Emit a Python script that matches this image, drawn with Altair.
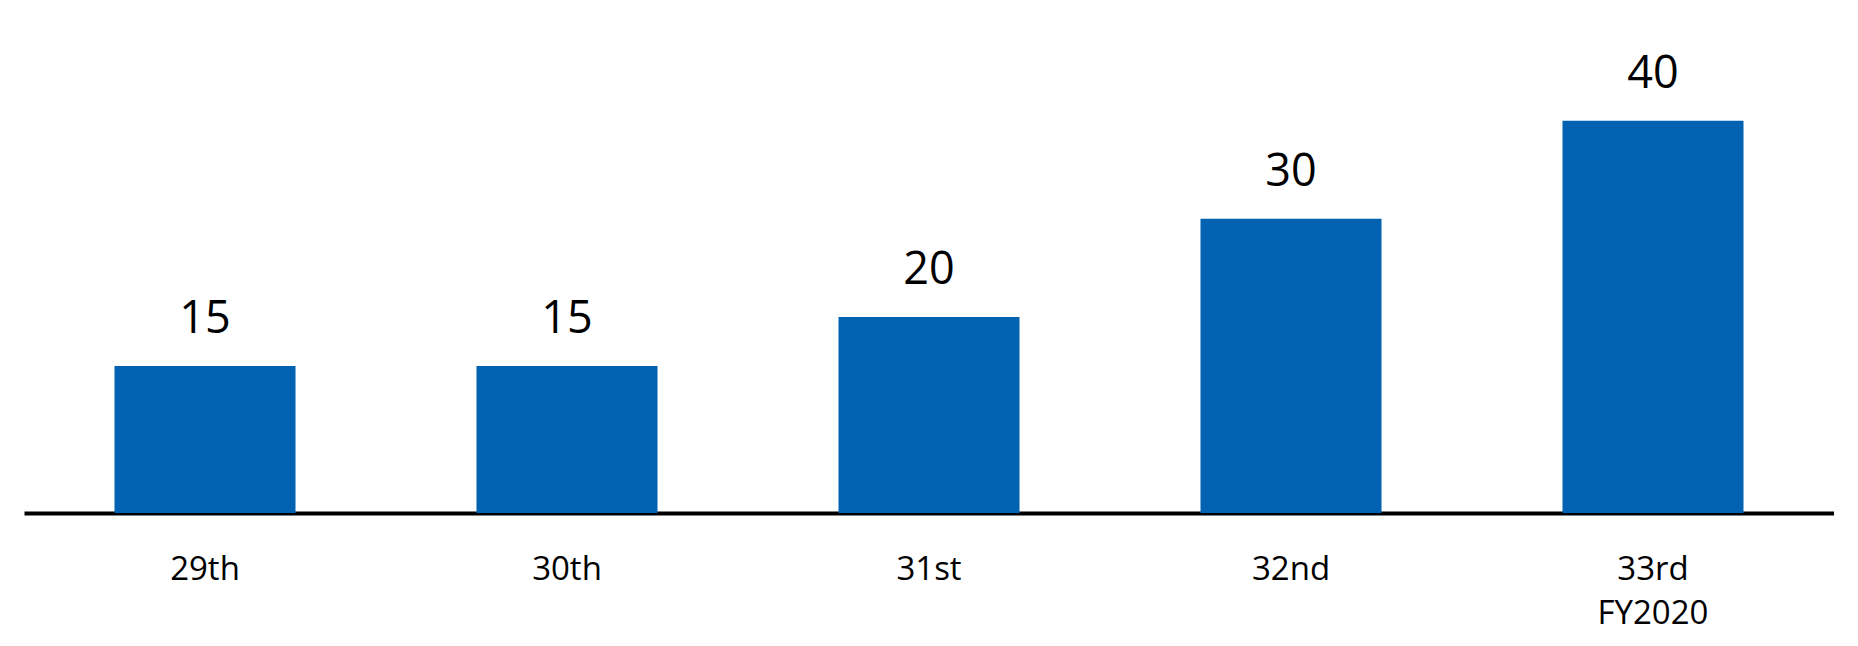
import altair as alt
import pandas as pd

categories = ["29th", "30th", "31st", "32nd", "33rd"]
label_lines = [["29th"], ["30th"], ["31st"], ["32nd"], ["33rd", "FY2020"]]
values = [15, 15, 20, 30, 40]

df = pd.DataFrame({"cat": categories, "value": values})

label_map = "{" + ",".join(
    '"%s": %s' % (c, "[" + ",".join('"%s"' % s for s in l) + "]")
    for c, l in zip(categories, label_lines)
) + "}"

FONT = "Open Sans"

base = alt.Chart(df).encode(
    x=alt.X(
        "cat:N",
        sort=categories,
        scale=alt.Scale(paddingInner=0.5, paddingOuter=0.25),
        axis=alt.Axis(
            title=None,
            ticks=False,
            domain=True,
            domainColor="black",
            domainWidth=4,
            labelAngle=0,
            labelFont=FONT,
            labelFontSize=33,
            labelColor="black",
            labelPadding=40,
            labelLineHeight=44,
            labelExpr=label_map + "[datum.value]",
        ),
    ),
    y=alt.Y(
        "value:Q",
        scale=alt.Scale(domain=[0, 51.5], nice=False, zero=True),
        axis=None,
    ),
)

bars = base.mark_bar(color="#0062B0")

text = base.mark_text(
    baseline="bottom", dy=-24, font=FONT, fontSize=45, color="black"
).encode(text="value:Q")

chart = (
    (bars + text)
    .properties(
        width=1810,
        height=505,
        background="white",
        padding={"left": 16, "top": 0, "right": 0, "bottom": 2},
    )
    .configure_view(strokeWidth=0, stroke=None)
)

chart.save("out.html", embed_options={"renderer": "svg", "actions": False})
